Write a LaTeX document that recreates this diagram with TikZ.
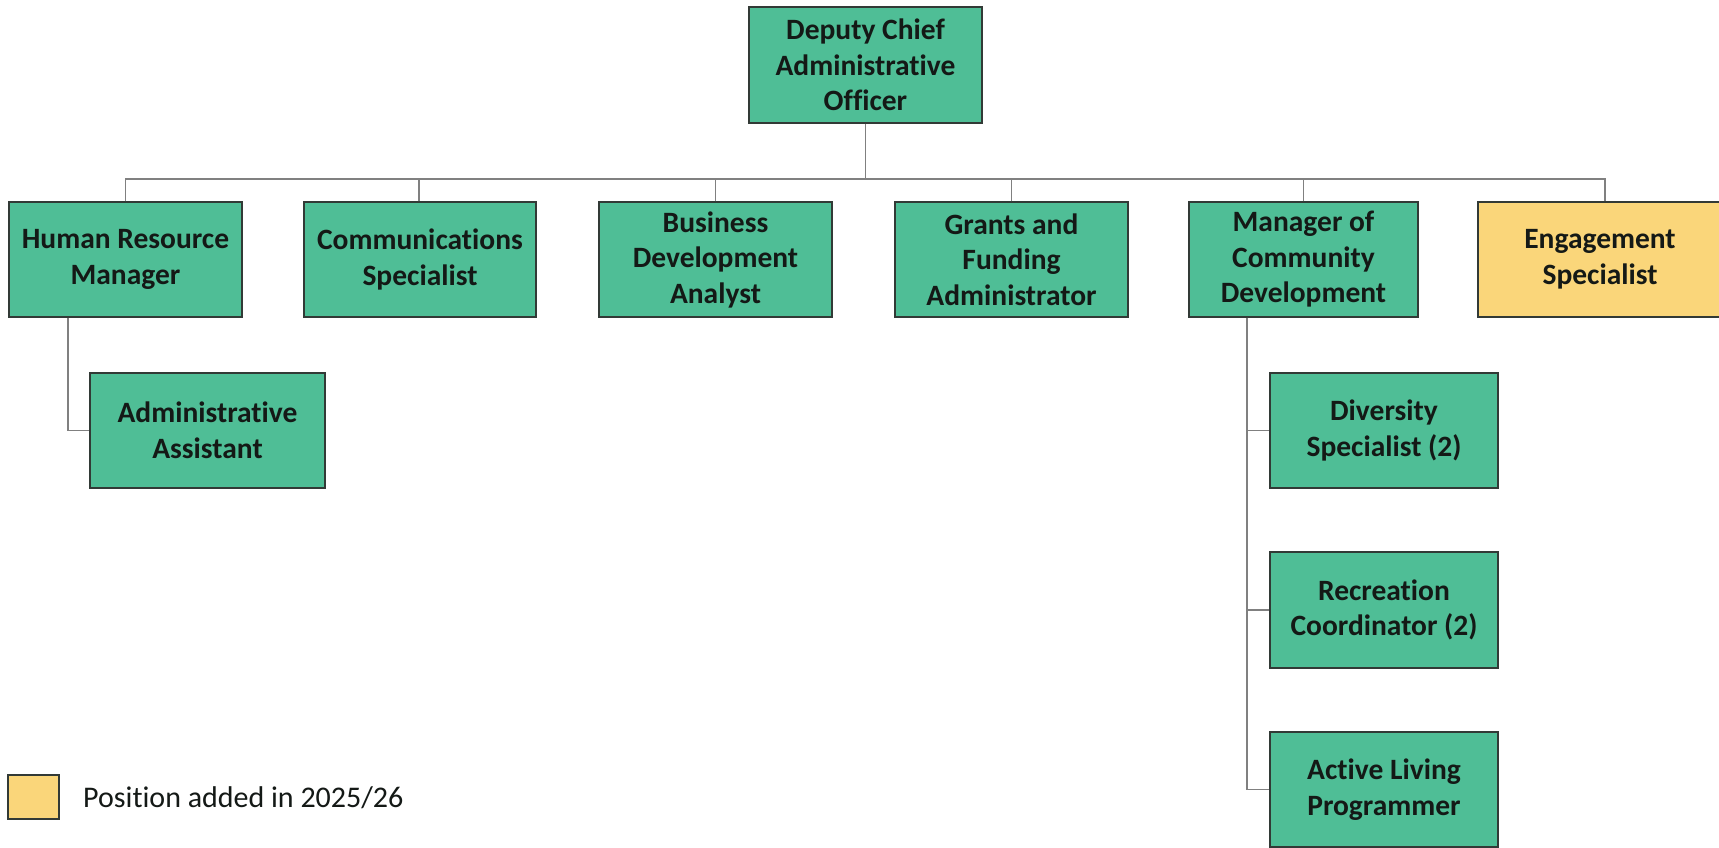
\documentclass[tikz,border=0pt]{standalone}
\usepackage{fontspec}
\setmainfont{Carlito}[Ligatures=NoCommon]
\definecolor{boxgreen}{RGB}{79,190,150}
\definecolor{boxyellow}{RGB}{250,214,122}
\definecolor{boxline}{RGB}{50,58,54}
\definecolor{linkgray}{RGB}{128,128,128}
\definecolor{txt}{RGB}{20,25,22}
\begin{document}
\begin{tikzpicture}[x=1pt,y=-1pt,
  box/.style={draw=boxline, line width=1.3pt, fill=boxgreen, minimum width=233pt,
    minimum height=115pt, align=center, inner sep=0pt, text=txt,
    font=\bfseries\fontsize{29.5}{35.5}\selectfont},
  newbox/.style={box, fill=boxyellow},
  link/.style={draw=linkgray, line width=1.5pt}]
\useasboundingbox (0,0) rectangle (1719,848);
\fill[white] (0,0) rectangle (1719,848);

\node[box, minimum height=116pt] (chief) at (865.5,65) {Deputy Chief\\Administrative\\Officer};

\node[box] (hr) at (125.5,259.5) {Human Resource\\Manager};
\node[box, minimum width=232pt] (comm) at (420,259.5) {Communications\\Specialist};
\node[box] (bda) at (715.5,259.5) {Business\\Development\\Analyst};
\node[box] (grants) at (1011.5,259.5) {Grants and\\Funding\\Administrator};
\node[box, minimum width=229pt] (mcd) at (1303.5,259.5) {Manager of\\Community\\Development};
\node[newbox, minimum width=244pt] (eng) at (1600,259.5) {Engagement\\Specialist};

\node[box, minimum width=235pt] (admin) at (207.5,430.5) {Administrative\\Assistant};
\node[box, minimum width=228pt] (div) at (1384,430.5) {Diversity\\Specialist (2)};
\node[box, minimum width=228pt, minimum height=116pt] (rec) at (1384,610) {Recreation\\Coordinator (2)};
\node[box, minimum width=228pt] (act) at (1384,789.5) {Active Living\\Programmer};

\coordinate (bus) at (865.5,179);
\draw[link] (chief.south) -- (bus);
\draw[link] (hr.north) |- (bus);
\draw[link] ([xshift=-1pt]comm.north) |- (bus);
\draw[link] (bda.north) |- (bus);
\draw[link] (grants.north) |- (bus);
\draw[link] (mcd.north) |- (bus);
\draw[link] ([xshift=5pt]eng.north) |- (bus);

\draw[link] ([xshift=-57.5pt]hr.south) |- (admin.west);
\draw[link] ([xshift=-56.5pt]mcd.south) |- (div.west);
\draw[link] ([xshift=-56.5pt]mcd.south) |- (rec.west);
\draw[link] ([xshift=-56.5pt]mcd.south) |- (act.west);

\node[draw=boxline, line width=1.3pt, fill=boxyellow, minimum width=51pt, minimum height=44pt, inner sep=0pt] (legbox) at (33.5,797) {};
\node[anchor=west, inner sep=0pt, text=txt, font=\fontsize{30}{36}\selectfont] (legtext) at (83,798) {Position added in 2025/26};
\end{tikzpicture}
\end{document}
